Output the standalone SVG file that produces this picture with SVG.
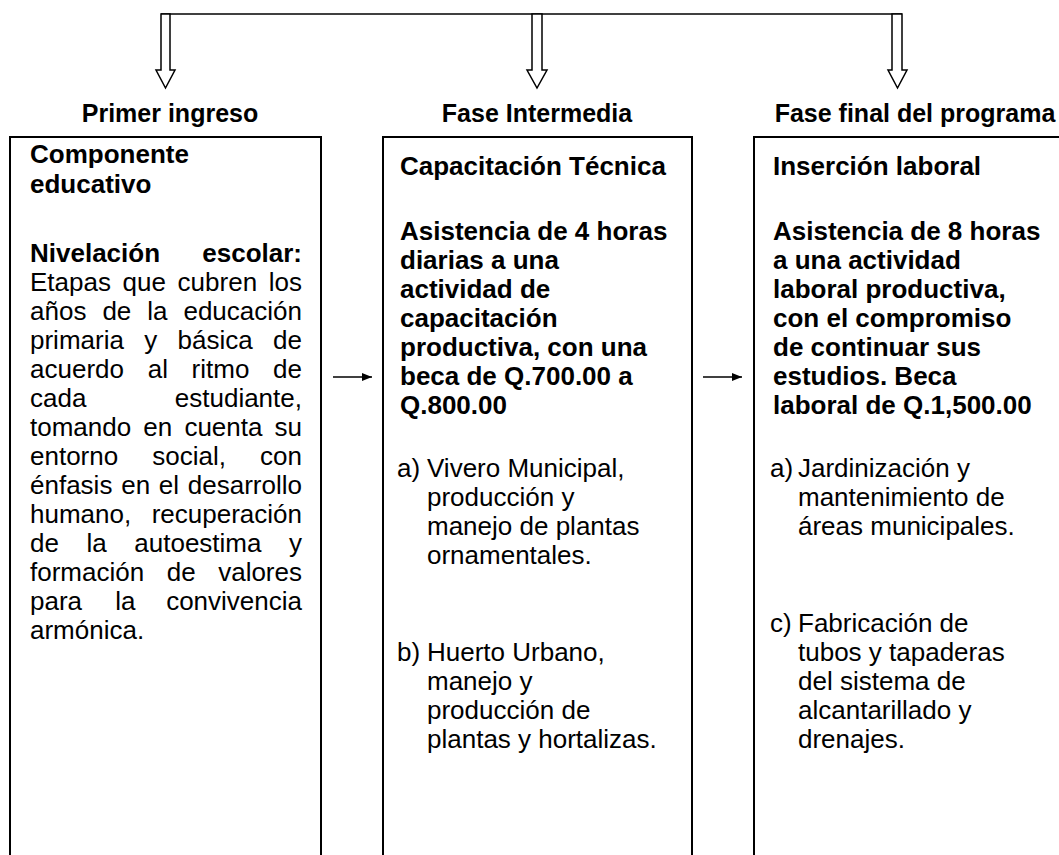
<svg xmlns="http://www.w3.org/2000/svg" width="1059" height="855" viewBox="0 0 1059 855">
<style>
text{font-family:"Liberation Sans",Arial,sans-serif;font-size:26px;fill:#000}
.h{font-size:25px;font-weight:bold;text-anchor:middle}
.b{font-weight:bold}
.e{text-anchor:end}
.box{fill:none;stroke:#000;stroke-width:2}
.hollow{fill:#fff;stroke:#000;stroke-width:1.5;stroke-linejoin:miter}
.ln{fill:none;stroke:#000;stroke-width:1.5}
</style>
<defs>
<marker id="ah" markerWidth="10" markerHeight="8" refX="10" refY="4" orient="auto" markerUnits="userSpaceOnUse">
<path d="M0,0 L10,4 L0,8 Z" fill="#000"/>
</marker>
</defs>
<rect width="1059" height="855" fill="#fff"/>
<g id="connectors">
<line class="ln" x1="161" y1="14" x2="902" y2="14"/>
<polygon class="hollow" points="161,14 161,70 156,70 165.5,88 175,70 170,70 170,14"/>
<polygon class="hollow" points="532,14 532,70 527,70 537,88 547,70 542,70 542,14"/>
<polygon class="hollow" points="892,14 892,70 888,70 897.5,88 907,70 902,70 902,14"/>
<line class="ln" x1="333" y1="377" x2="372" y2="377" marker-end="url(#ah)"/>
<line class="ln" x1="703" y1="377" x2="742" y2="377" marker-end="url(#ah)"/>
</g>
<g id="node1">
<text class="h" x="170" y="122">Primer ingreso</text>
<rect class="box" x="10" y="137" width="311" height="740"/>
<text class="b" x="30" y="163">Componente</text>
<text class="b" x="30" y="193">educativo</text>
<text class="b" x="30" y="262">Nivelación</text><text class="b e" x="302" y="262">escolar:</text>
<text y="291"><tspan x="30">Etapas</tspan><tspan x="122.6">que</tspan><tspan x="177.6">cubren</tspan></text><text class="e" x="302" y="291">los</text>
<text y="320"><tspan x="30">años</tspan><tspan x="102.4">de</tspan><tspan x="147.3">la</tspan></text><text class="e" x="302" y="320">educación</text>
<text y="349"><tspan x="30">primaria</tspan><tspan x="144.2">y</tspan><tspan x="177.6">básica</tspan></text><text class="e" x="302" y="349">de</text>
<text y="378"><tspan x="30">acuerdo</tspan><tspan x="147.7">al</tspan><tspan x="191.6">ritmo</tspan></text><text class="e" x="302" y="378">de</text>
<text x="30" y="407">cada</text><text class="e" x="302" y="407">estudiante,</text>
<text y="436"><tspan x="30">tomando</tspan><tspan x="143.3">en</tspan><tspan x="184.4">cuenta</tspan></text><text class="e" x="302" y="436">su</text>
<text y="465"><tspan x="30">entorno</tspan><tspan x="152.3">social,</tspan></text><text class="e" x="302" y="465">con</text>
<text y="494"><tspan x="30">énfasis</tspan><tspan x="121.2">en</tspan><tspan x="158.8">el</tspan></text><text class="e" x="302" y="494">desarrollo</text>
<text x="30" y="523">humano,</text><text class="e" x="302" y="523">recuperación</text>
<text y="552"><tspan x="30">de</tspan><tspan x="86.5">la</tspan><tspan x="134.3">autoestima</tspan></text><text class="e" x="302" y="552">y</text>
<text y="581"><tspan x="30">formación</tspan><tspan x="166.7">de</tspan></text><text class="e" x="302" y="581">valores</text>
<text y="610"><tspan x="30">para</tspan><tspan x="115.3">la</tspan></text><text class="e" x="302" y="610">convivencia</text>
<text x="30" y="639">armónica.</text>
</g>
<g id="node2">
<text class="h" x="537" y="122">Fase Intermedia</text>
<rect class="box" x="383" y="137" width="309" height="740"/>
<text class="b" x="400" y="175">Capacitación Técnica</text>
<text class="b" x="400" y="240">Asistencia de 4 horas</text>
<text class="b" x="400" y="269">diarias a una</text>
<text class="b" x="400" y="298">actividad de</text>
<text class="b" x="400" y="327">capacitación</text>
<text class="b" x="400" y="356">productiva, con una</text>
<text class="b" x="400" y="385">beca de Q.700.00 a</text>
<text class="b" x="400" y="414">Q.800.00</text>
<text x="397" y="477">a)</text><text x="427" y="477">Vivero Municipal,</text>
<text x="427" y="506">producción y</text>
<text x="427" y="535">manejo de plantas</text>
<text x="427" y="564">ornamentales.</text>
<text x="397" y="661">b)</text><text x="427" y="661">Huerto Urbano,</text>
<text x="427" y="690">manejo y</text>
<text x="427" y="719">producción de</text>
<text x="427" y="748">plantas y hortalizas.</text>
</g>
<g id="node3">
<text class="h" x="915" y="122">Fase final del programa</text>
<rect class="box" x="754" y="137" width="320" height="740"/>
<text class="b" x="773" y="175">Inserción laboral</text>
<text class="b" x="773" y="240">Asistencia de 8 horas</text>
<text class="b" x="773" y="269">a una actividad</text>
<text class="b" x="773" y="298">laboral productiva,</text>
<text class="b" x="773" y="327">con el compromiso</text>
<text class="b" x="773" y="356">de continuar sus</text>
<text class="b" x="773" y="385">estudios. Beca</text>
<text class="b" x="773" y="414">laboral de Q.1,500.00</text>
<text x="770" y="477">a)</text><text x="798" y="477">Jardinización y</text>
<text x="798" y="506">mantenimiento de</text>
<text x="798" y="535">áreas municipales.</text>
<text x="770" y="632">c)</text><text x="798" y="632">Fabricación de</text>
<text x="798" y="661">tubos y tapaderas</text>
<text x="798" y="690">del sistema de</text>
<text x="798" y="719">alcantarillado y</text>
<text x="798" y="748">drenajes.</text>
</g>
</svg>
